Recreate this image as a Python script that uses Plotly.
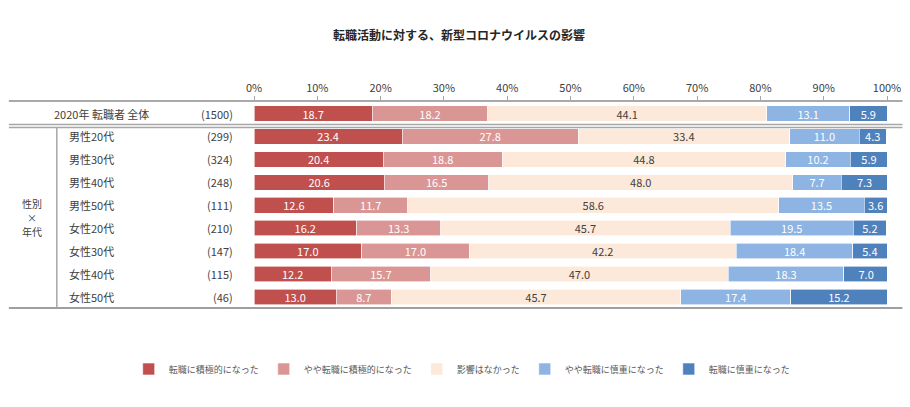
import plotly.graph_objects as go

categories = ["2020年 転職者 全体", "男性20代", "男性30代", "男性40代", "男性50代",
              "女性20代", "女性30代", "女性40代", "女性50代"]
counts = ["(1500)", "(299)", "(324)", "(248)", "(111)", "(210)", "(147)", "(115)", "(46)"]
series_names = ["転職に積極的になった", "やや転職に積極的になった", "影響はなかった",
                "やや転職に慎重になった", "転職に慎重になった"]
s1 = [18.7, 23.4, 20.4, 20.6, 12.6, 16.2, 17.0, 12.2, 13.0]
s2 = [18.2, 27.8, 18.8, 16.5, 11.7, 13.3, 17.0, 15.7, 8.7]
s3 = [44.1, 33.4, 44.8, 48.0, 58.6, 45.7, 42.2, 47.0, 45.7]
s4 = [13.1, 11.0, 10.2, 7.7, 13.5, 19.5, 18.4, 18.3, 17.4]
s5 = [5.9, 4.3, 5.9, 7.3, 3.6, 5.2, 5.4, 7.0, 15.2]
tick_vals = [0, 10, 20, 30, 40, 50, 60, 70, 80, 90, 100]
tick_text = ["0%", "10%", "20%", "30%", "40%", "50%", "60%", "70%", "80%", "90%", "100%"]
group_label = ["性別", "×", "年代"]

series = [s1, s2, s3, s4, s5]
colors = ["#C0504D", "#DA9694", "#FDE9D9", "#8DB4E2", "#4F81BD"]
text_colors = ["#FFFFFF", "#FFFFFF", "#404040", "#FFFFFF", "#FFFFFF"]

FONT = "Noto Sans CJK JP"
W, H = 910, 407
L, R = 253.5, 887.5
T, B = 101, 308


def px(x):
    return (x - L) / (R - L)


def py(y):
    return (B - y) / (B - T)


fig = go.Figure()
for name, vals, c, tc in zip(series_names, series, colors, text_colors):
    fig.add_trace(go.Bar(
        y=categories, x=vals, name=name, orientation="h",
        marker=dict(color=c, line=dict(color="#FFFFFF", width=0.6)),
        width=0.68,
        text=[f"{v:.1f}" for v in vals], textposition="inside",
        insidetextanchor="middle", textangle=0,
        textfont=dict(color=tc, size=11, family=FONT),
        hoverinfo="skip",
    ))

annotations = []
annotations.append(dict(text="<b>転職活動に対する、新型コロナウイルスの影響</b>",
                        xref="paper", yref="paper", x=px(459), y=py(35),
                        xanchor="center", yanchor="middle", showarrow=False,
                        font=dict(size=12, color="#262626", family=FONT)))
for i, (cat, cnt) in enumerate(zip(categories, counts)):
    if i == 0:
        annotations.append(dict(text=cat, xref="paper", yref="y", x=px(101), y=cat,
                                xanchor="center", yanchor="middle", showarrow=False,
                                font=dict(size=11, color="#404040", family=FONT)))
    else:
        annotations.append(dict(text=cat, xref="paper", yref="y", x=px(66), y=cat,
                                xanchor="left", yanchor="middle", showarrow=False,
                                font=dict(size=11, color="#404040", family=FONT)))
    annotations.append(dict(text=cnt, xref="paper", yref="y", x=px(234), y=cat,
                            xanchor="right", yanchor="middle", showarrow=False,
                            font=dict(size=11, color="#404040", family=FONT)))
for txt, yy in zip(group_label, [203, 217.5, 232]):
    annotations.append(dict(text=txt, xref="paper", yref="paper",
                            x=px(31), y=py(yy), xanchor="center", yanchor="middle",
                            showarrow=False, height=13,
                            font=dict(size=10, color="#404040", family=FONT)))

shapes = [
    dict(type="line", xref="paper", yref="paper", x0=px(8), x1=px(903),
         y0=py(101), y1=py(101), line=dict(color="#8C8C8C", width=1.5)),
    dict(type="line", xref="paper", yref="paper", x0=px(8), x1=px(903),
         y0=py(124.5), y1=py(124.5), line=dict(color="#A6A6A6", width=1.5)),
    dict(type="line", xref="paper", yref="paper", x0=px(8), x1=px(903),
         y0=py(127.5), y1=py(127.5), line=dict(color="#A6A6A6", width=1.5)),
    dict(type="line", xref="paper", yref="paper", x0=px(8), x1=px(903),
         y0=py(308), y1=py(308), line=dict(color="#7F7F7F", width=1.5)),
    dict(type="line", xref="paper", yref="paper", x0=px(56), x1=px(56),
         y0=py(128), y1=py(308), line=dict(color="#A6A6A6", width=1.5)),
]

fig.update_layout(
    width=W, height=H,
    margin=dict(l=L, r=W - R, t=T, b=H - B, pad=0, autoexpand=False),
    barmode="stack",
    plot_bgcolor="#FFFFFF", paper_bgcolor="#FFFFFF",
    font=dict(family=FONT, color="#404040"),
    showlegend=True,
    legend=dict(orientation="h", xref="paper", yref="paper",
                x=px(128), y=py(369), xanchor="left",
                yanchor="middle", traceorder="normal",
                font=dict(size=9, color="#595959", family=FONT),
                itemwidth=30, tracegroupgap=0),
    uniformtext=dict(minsize=11, mode="show"),
    annotations=annotations,
    shapes=shapes,
    bargap=0.3,
)
fig.update_xaxes(range=[0, 100], side="top", tickmode="array", tickvals=tick_vals,
                 ticktext=tick_text,
                 ticks="outside", ticklen=4, tickcolor="#A6A6A6",
                 showgrid=False, zeroline=False, showline=False, automargin=False,
                 tickfont=dict(size=11, color="#404040", family=FONT))
fig.update_yaxes(categoryorder="array", categoryarray=categories,
                 range=[8.48, -0.545], showticklabels=False, ticks="",
                 showgrid=False, zeroline=False, showline=False, automargin=False)

fig.write_html("out.html", config={"displayModeBar": False},
               post_script="document.body.style.margin='0';document.body.style.overflow='hidden';")
